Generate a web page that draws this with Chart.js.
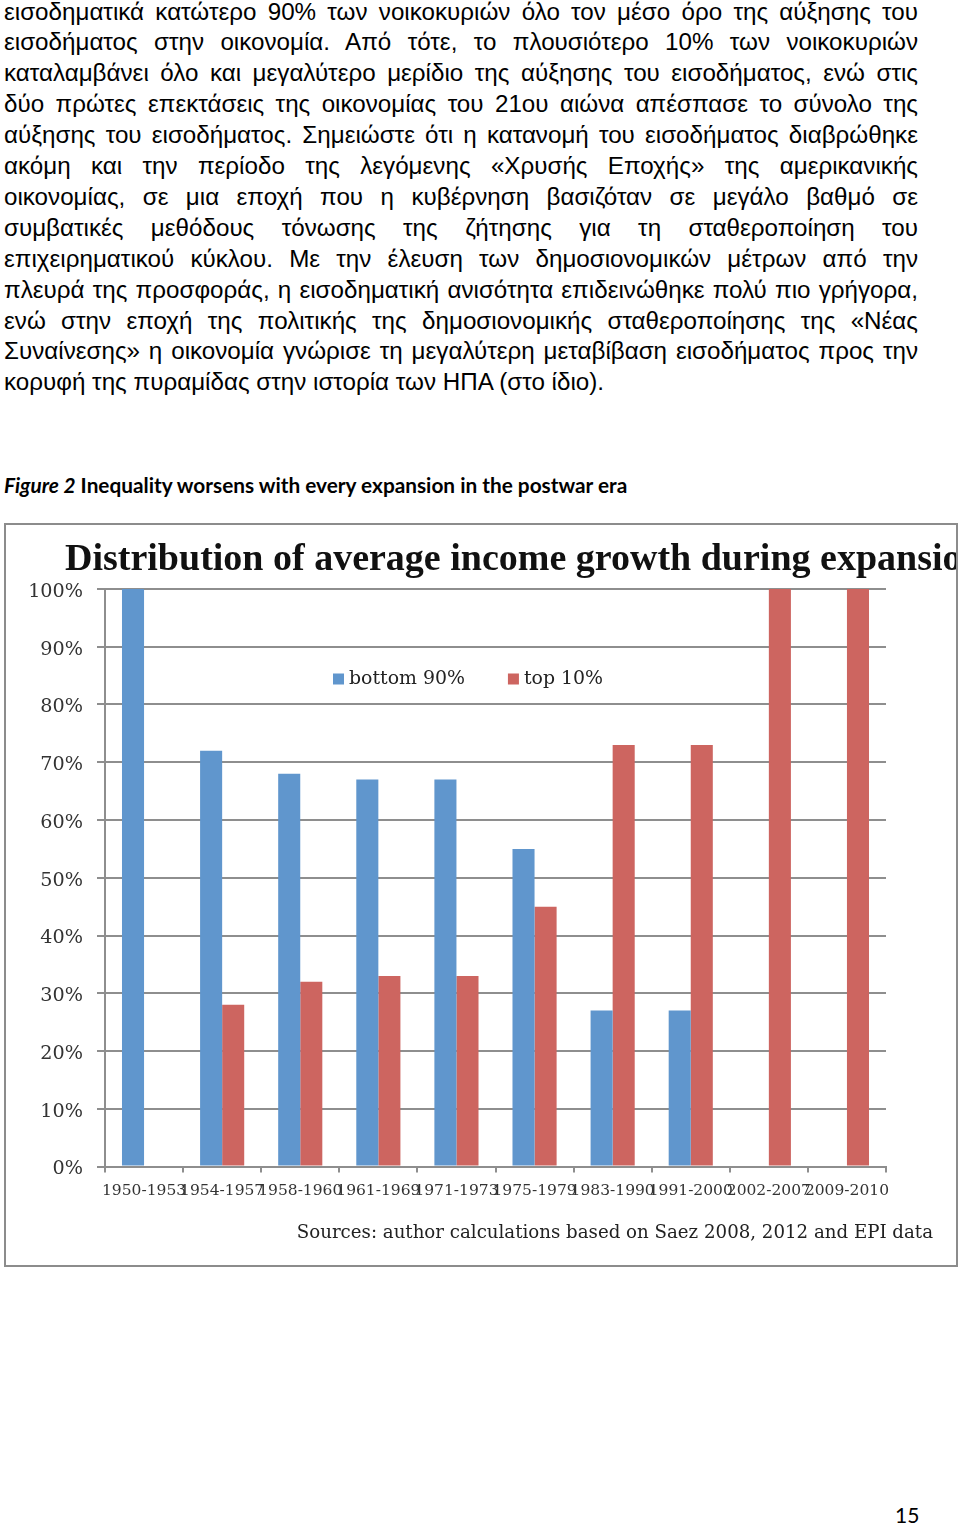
<!DOCTYPE html>
<html>
<head>
<meta charset="utf-8">
<script src="https://cdn.jsdelivr.net/npm/chart.js@4/dist/chart.umd.min.js"></script>
<style>
  html, body { margin: 0; padding: 0; background: #fff; }
  body { width: 960px; height: 1527px; position: relative; overflow: hidden; }
  .text { position: absolute; left: 4px; top: -3.5px; width: 914px;
          font-family: "Liberation Sans", Arial, sans-serif; font-size: 24.2px;
          line-height: 30.9px; color: #000; }
  .text div { text-align: justify; text-align-last: justify; white-space: nowrap; }
  .text div.last { text-align-last: left; }
  .caption { position: absolute; left: 4px; top: 473px; font-family: Lato, sans-serif;
             font-weight: bold; font-size: 20.8px; line-height: 24px; color: #000; }
  .box { position: absolute; left: 4px; top: 523px; width: 954px; height: 744px;
         box-sizing: border-box; border: 2px solid #8c8c8c; overflow: hidden; }
  .box canvas { position: absolute; left: 0; top: 0; }
  .ctitle { position: absolute; left: 59px; top: 12.5px; white-space: nowrap;
            font-family: "Liberation Serif", serif; font-weight: bold; font-size: 38px;
            line-height: 38px; color: #111; }
  .source { position: absolute; right: 23px; top: 696px; white-space: nowrap;
            font-family: "DejaVu Serif", serif; font-size: 18.2px; line-height: 22px; color: #222; }
  .page { position: absolute; left: 895px; top: 1503px; font-family: Lato, sans-serif;
          font-size: 21px; line-height: 24px; color: #000; }
</style>
</head>
<body>
<div class="text">
  <div>εισοδηματικά κατώτερο 90% των νοικοκυριών όλο τον μέσο όρο της αύξησης του</div>
  <div>εισοδήματος στην οικονομία. Από τότε, το πλουσιότερο 10% των νοικοκυριών</div>
  <div>καταλαμβάνει όλο και μεγαλύτερο μερίδιο της αύξησης του εισοδήματος, ενώ στις</div>
  <div>δύο πρώτες επεκτάσεις της οικονομίας του 21ου αιώνα απέσπασε το σύνολο της</div>
  <div>αύξησης του εισοδήματος. Σημειώστε ότι η κατανομή του εισοδήματος διαβρώθηκε</div>
  <div>ακόμη και την περίοδο της λεγόμενης «Χρυσής Εποχής» της αμερικανικής</div>
  <div>οικονομίας, σε μια εποχή που η κυβέρνηση βασιζόταν σε μεγάλο βαθμό σε</div>
  <div>συμβατικές μεθόδους τόνωσης της ζήτησης για τη σταθεροποίηση του</div>
  <div>επιχειρηματικού κύκλου. Με την έλευση των δημοσιονομικών μέτρων από την</div>
  <div>πλευρά της προσφοράς, η εισοδηματική ανισότητα επιδεινώθηκε πολύ πιο γρήγορα,</div>
  <div>ενώ στην εποχή της πολιτικής της δημοσιονομικής σταθεροποίησης της «Νέας</div>
  <div>Συναίνεσης» η οικονομία γνώρισε τη μεγαλύτερη μεταβίβαση εισοδήματος προς την</div>
  <div class="last">κορυφή της πυραμίδας στην ιστορία των ΗΠΑ (στο ίδιο).</div>
</div>

<div class="caption"><i>Figure 2</i> Inequality worsens with every expansion in the postwar era</div>

<div class="box">
  <canvas id="myChart" width="950" height="740"></canvas>
  <div class="ctitle">Distribution of average income growth during expansions</div>
  <div class="source">Sources: author calculations based on Saez 2008, 2012 and EPI data</div>
</div>

<div class="page">15</div>

<script>
// DATA
const categories = ['1950-1953', '1954-1957', '1958-1960', '1961-1969', '1971-1973',
                    '1975-1979', '1983-1990', '1991-2000', '2002-2007', '2009-2010'];
const bottom90 = [100, 72, 68, 67, 67, 55, 27, 27, null, null];
const top10 = [null, 28, 32, 33, 33, 45, 73, 73, 100, 100];
const seriesNames = ['bottom 90%', 'top 10%'];
const yTickStep = 10;

const blue = 'rgb(96, 150, 205)';
const red = 'rgb(205, 101, 96)';
const gridColor = '#8e8e8e';

// legend drawn inside the plot area, like the original
const innerLegend = {
    id: 'innerLegend',
    afterDatasetsDraw(chart) {
        const ctx = chart.ctx;
        const area = chart.chartArea;
        let x = area.left + 228;
        const y = area.top + 90;
        ctx.save();
        ctx.font = '18.9px "DejaVu Serif", serif';
        ctx.textBaseline = 'middle';
        ctx.textAlign = 'left';
        chart.data.datasets.forEach(ds => {
            ctx.fillStyle = ds.backgroundColor;
            ctx.fillRect(x, y - 5.5, 11, 11);
            ctx.fillStyle = '#222';
            ctx.fillText(ds.label, x + 16, y);
            x += 16 + ctx.measureText(ds.label).width + 43;
        });
        ctx.restore();
    }
};

chartIt();

function chartIt() {
    const ctx = document.getElementById('myChart').getContext('2d');

    Chart.defaults.font.family = '"DejaVu Serif", serif';
    Chart.defaults.color = '#333';

    new Chart(ctx, {
        type: 'bar',
        data: {
            labels: categories,
            datasets: [{
                label: seriesNames[0],
                data: bottom90,
                backgroundColor: blue,
                borderWidth: 0,
                categoryPercentage: 0.565,
                barPercentage: 1
            },
            {
                label: seriesNames[1],
                data: top10,
                backgroundColor: red,
                borderWidth: 0,
                categoryPercentage: 0.565,
                barPercentage: 1
            }]
        },
        options: {
            responsive: false,
            devicePixelRatio: 1,
            animation: false,
            layout: {
                padding: { top: 64, right: 70, bottom: 64.5, left: 0 }
            },
            plugins: {
                legend: { display: false },
                title: { display: false },
                tooltip: { enabled: false }
            },
            scales: {
                x: {
                    afterFit: (s) => { s.height = 34; },
                    grid: {
                        drawOnChartArea: false,
                        drawTicks: true,
                        tickLength: 6,
                        color: gridColor,
                        lineWidth: 2
                    },
                    border: { color: gridColor, width: 2 },
                    ticks: {
                        autoSkip: false,
                        maxRotation: 0,
                        minRotation: 0,
                        padding: 9,
                        color: '#333',
                        font: { size: 15.5 }
                    }
                },
                y: {
                    min: 0,
                    max: 100,
                    afterFit: (s) => { s.width = 99; },
                    grid: {
                        color: gridColor,
                        lineWidth: 2,
                        tickLength: 8
                    },
                    border: { color: gridColor, width: 2 },
                    ticks: {
                        stepSize: yTickStep,
                        padding: 14,
                        labelOffset: 3,
                        color: '#333',
                        font: { size: 19.2 },
                        callback: (v) => v + '%'
                    }
                }
            }
        },
        plugins: [innerLegend]
    });
}
</script>
</body>
</html>
